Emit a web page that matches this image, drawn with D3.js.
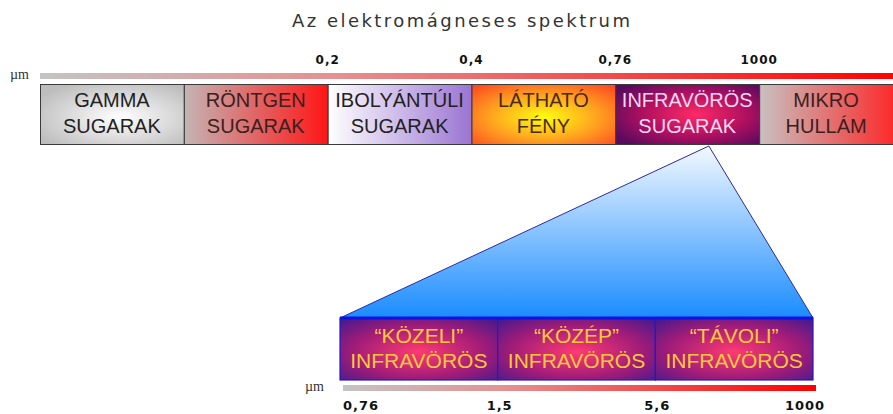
<!DOCTYPE html>
<html>
<head>
<meta charset="utf-8">
<script src="https://cdn.jsdelivr.net/npm/d3@7"></script>
<style>
  body { margin: 0; background: #fff; }
  .band-label { font-family: "Liberation Sans", Arial, sans-serif; font-size: 20px; text-anchor: middle; }
  .tick-label { font-family: "DejaVu Sans", Verdana, sans-serif; font-size: 12px; font-weight: bold; letter-spacing: 1px; fill: #111; }
  .unit { font-family: "Liberation Serif", "Times New Roman", serif; font-size: 14px; fill: #333; }
</style>
</head>
<body>
<svg id="chart"></svg>
<script>
// spectrum bands (top row)
const bandLine1 = ["GAMMA", "RÖNTGEN", "IBOLYÁNTÚLI", "LÁTHATÓ", "INFRAVÖRÖS", "MIKRO"];
const bandLine2 = ["SUGARAK", "SUGARAK", "SUGARAK", "FÉNY", "SUGARAK", "HULLÁM"];
const topTicks = ["0,2", "0,4", "0,76", "1000"];

// infrared detail (bottom row)
const irLine1 = ["“KÖZELI”", "“KÖZÉP”", "“TÁVOLI”"];
const irLine2 = ["INFRAVÖRÖS", "INFRAVÖRÖS", "INFRAVÖRÖS"];
const irTicks = ["0,76", "1,5", "5,6", "1000"];

const title = "Az elektromágneses spektrum";

const width = 893, height = 414;

const svg = d3.select('#chart')
    .attr('width', width)
    .attr('height', height);

const defs = svg.append('defs');

function linear(id, stops, x2 = '100%', y2 = '0%') {
  const g = defs.append('linearGradient').attr('id', id)
      .attr('x1', '0%').attr('y1', '0%').attr('x2', x2).attr('y2', y2);
  stops.forEach(s => g.append('stop').attr('offset', s[0]).attr('stop-color', s[1]));
}
function radial(id, stops, cx = '50%', cy = '50%', r = '60%') {
  const g = defs.append('radialGradient').attr('id', id)
      .attr('cx', cx).attr('cy', cy).attr('r', r);
  stops.forEach(s => g.append('stop').attr('offset', s[0]).attr('stop-color', s[1]));
}

linear('g-bar', [['0%', '#c4c4c4'], ['35%', '#e49090'], ['100%', '#ff0000']]);
radial('g-gamma', [['0%', '#ffffff'], ['100%', '#bdbdbd']], '55%', '55%', '65%');
linear('g-ront', [['0%', '#c4b4b4'], ['100%', '#ff1515']]);
linear('g-ibol', [['0%', '#ffffff'], ['100%', '#9a74d2']]);
radial('g-lath', [['0%', '#ffff10'], ['55%', '#ffa020'], ['100%', '#ff4a20']], '50%', '55%', '70%');
radial('g-infra', [['0%', '#ff2a66'], ['55%', '#b01060'], ['100%', '#5a0a5e']], '55%', '50%', '65%');
linear('g-mikro', [['0%', '#c8c0c0'], ['100%', '#ff2020']]);
radial('g-ir', [['0%', '#ff3a72'], ['60%', '#a01c78'], ['100%', '#4a1a8c']], '50%', '55%', '70%');
linear('g-tri', [['0%', '#f4f9ff'], ['100%', '#1a8cff']], '0%', '100%');

const bandFills = ['url(#g-gamma)', 'url(#g-ront)', 'url(#g-ibol)', 'url(#g-lath)', 'url(#g-infra)', 'url(#g-mikro)'];
const bandText = ['#222', '#3a2020', '#222', '#4a2a10', '#f4d8f4', '#3a2020'];

// scales (last band runs off the right edge)
const xTop = d3.scaleBand().domain(bandLine1).range([40, 903]);
const xIr = d3.scaleBand().domain(irLine1).range([340, 813]);
const xIrTick = d3.scalePoint().domain(irTicks).range([340, 813]);

const topBar = {y: 73, h: 6};
const topBox = {y: 84, h: 60};
const irBox = {y: 318, h: 62};
const irBar = {y: 385, h: 6};

// title
svg.append('text')
    .attr('x', 461).attr('y', 27)
    .attr('text-anchor', 'middle')
    .attr('textLength', 338).attr('lengthAdjust', 'spacing')
    .style('font-family', '"DejaVu Sans", Verdana, sans-serif')
    .style('font-size', '18px')
    .style('fill', '#333')
    .text(title);

// top ticks at band boundaries
svg.selectAll('.top-tick')
    .data(topTicks)
  .join('text')
    .attr('class', 'tick-label top-tick')
    .attr('x', (d, i) => xTop(bandLine1[i + 2]))
    .attr('y', 64)
    .attr('text-anchor', 'middle')
    .text(d => d);

// top wavelength bar
svg.append('rect')
    .attr('x', xTop.range()[0]).attr('y', topBar.y)
    .attr('width', xTop.range()[1] - xTop.range()[0]).attr('height', topBar.h)
    .attr('fill', 'url(#g-bar)');
svg.append('text').attr('class', 'unit').attr('x', 10).attr('y', 79).text('µm');

// blue triangle (zoom into infrared)
const apexX = xTop('INFRAVÖRÖS') + xTop.bandwidth() * 0.65;
const apexY = topBox.y + topBox.h + 2;
svg.append('path')
    .attr('d', d3.line()([[apexX, apexY], [xIr.range()[1], irBox.y], [xIr.range()[0], irBox.y]]) + 'Z')
    .attr('fill', 'url(#g-tri)')
    .attr('stroke', '#2a2aa0')
    .attr('stroke-width', 1);

// top bands
const bands = svg.selectAll('.band')
    .data(bandLine1)
  .join('g')
    .attr('class', 'band');

bands.append('rect')
    .attr('x', d => xTop(d) + 0.5)
    .attr('y', topBox.y + 0.5)
    .attr('width', xTop.bandwidth())
    .attr('height', topBox.h)
    .attr('fill', (d, i) => bandFills[i])
    .attr('stroke', '#3a3a3a')
    .attr('stroke-width', 1);

bands.append('text')
    .attr('class', 'band-label')
    .attr('x', d => xTop(d) + Math.min(xTop.bandwidth(), 893 - xTop(d)) / 2)
    .attr('y', 107)
    .attr('fill', (d, i) => bandText[i])
    .text(d => d);

bands.append('text')
    .attr('class', 'band-label')
    .attr('x', d => xTop(d) + Math.min(xTop.bandwidth(), 893 - xTop(d)) / 2)
    .attr('y', 133)
    .attr('fill', (d, i) => bandText[i])
    .text((d, i) => bandLine2[i]);

// infrared bands
const ir = svg.selectAll('.ir')
    .data(irLine1)
  .join('g')
    .attr('class', 'ir');

ir.append('rect')
    .attr('x', d => xIr(d))
    .attr('y', irBox.y)
    .attr('width', xIr.bandwidth())
    .attr('height', irBox.h)
    .attr('fill', 'url(#g-ir)')
    .attr('stroke', '#1c1cc8')
    .attr('stroke-width', 1.2);

ir.append('text')
    .attr('class', 'band-label')
    .attr('x', d => xIr(d) + xIr.bandwidth() / 2)
    .attr('y', 343)
    .attr('fill', '#ffc83a')
    .style('font-size', '21px')
    .text(d => d);

ir.append('text')
    .attr('class', 'band-label')
    .attr('x', d => xIr(d) + xIr.bandwidth() / 2)
    .attr('y', 368)
    .attr('fill', '#ffc83a')
    .style('font-size', '21px')
    .text((d, i) => irLine2[i]);

// thicker blue top edge of the infrared row
svg.append('line')
    .attr('x1', xIr.range()[0]).attr('x2', xIr.range()[1])
    .attr('y1', irBox.y).attr('y2', irBox.y)
    .attr('stroke', '#1010e0').attr('stroke-width', 3);

// bottom wavelength bar
svg.append('rect')
    .attr('x', xIr.range()[0] + 3).attr('y', irBar.y)
    .attr('width', xIr.range()[1] - xIr.range()[0]).attr('height', irBar.h)
    .attr('fill', 'url(#g-bar)');
svg.append('text').attr('class', 'unit').attr('x', 305).attr('y', 391).text('µm');

svg.selectAll('.ir-tick')
    .data(irTicks)
  .join('text')
    .attr('class', 'tick-label ir-tick')
    .attr('x', (d, i) => xIrTick(d) + (i === 0 ? 3 : i === irTicks.length - 1 ? -8 : 2))
    .attr('y', 410)
    .attr('text-anchor', (d, i) => i === 0 ? 'start' : 'middle')
    .style('font-size', '13px')
    .text(d => d);
</script>
</body>
</html>
